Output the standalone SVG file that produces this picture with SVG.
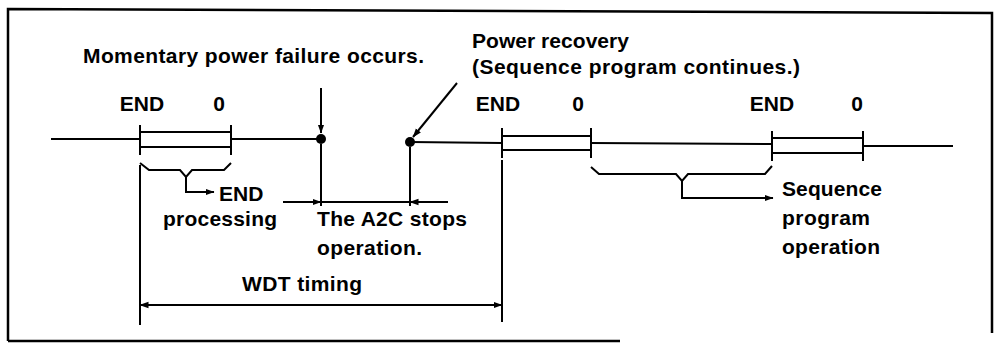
<svg xmlns="http://www.w3.org/2000/svg" width="1001" height="345" viewBox="0 0 1001 345">
<style>
  .t { font-family: "Liberation Sans", Arial, sans-serif; font-weight: bold; font-size: 21px; fill: #000; }
  .ln { stroke: #000; stroke-width: 2; fill: none; }
  .fr { stroke: #000; stroke-width: 2.5; fill: none; }
</style>
<defs>
  <marker id="ah" markerUnits="userSpaceOnUse" markerWidth="9" markerHeight="8" viewBox="0 0 9 8" refX="8.5" refY="4" orient="auto">
    <path d="M0,0.8 L9,4 L0,7.2 Z" fill="#000"/>
  </marker>
</defs>
<rect width="1001" height="345" fill="#fff"/>

<g id="frame">
  <path class="fr" d="M8,341 L8,9 L992,13 L992,333"/>
  <path class="fr" d="M8,341 L620,341"/>
</g>

<g id="timeline">
  <path class="ln" d="M51,139 L140,139"/>
  <path class="ln" d="M140,125 L140,155 M231,125 L231,155 M140,132 L231,132 M140,147 L231,147"/>
  <path class="ln" d="M231,139 L318,139"/>
  <circle cx="321" cy="139" r="5" fill="#000"/>
  <circle cx="410" cy="142" r="5" fill="#000"/>
  <path class="ln" d="M410,142 L502,143"/>
  <path class="ln" d="M502,128 L502,158 M591,128 L591,158 M502,136 L591,136 M502,150 L591,150"/>
  <path class="ln" d="M591,143 L772,144"/>
  <path class="ln" d="M772,131 L772,161 M863,131 L863,161 M772,138 L863,138 M772,153 L863,153"/>
  <path class="ln" d="M863,146 L953,146"/>
</g>

<g id="labels-end0">
  <text class="t" x="142" y="111" text-anchor="middle">END</text>
  <text class="t" x="219" y="111" text-anchor="middle">0</text>
  <text class="t" x="498" y="111" text-anchor="middle">END</text>
  <text class="t" x="578" y="111" text-anchor="middle">0</text>
  <text class="t" x="772" y="111" text-anchor="middle">END</text>
  <text class="t" x="857" y="111" text-anchor="middle">0</text>
</g>

<g id="node-failure">
  <text class="t" x="83" y="63" textLength="341" lengthAdjust="spacing">Momentary power failure occurs.</text>
</g>

<g id="node-recovery">
  <text class="t" x="472" y="48" textLength="157" lengthAdjust="spacing">Power recovery</text>
  <text class="t" x="472" y="74" textLength="328" lengthAdjust="spacing">(Sequence program continues.)</text>
</g>

<g id="node-end-processing">
  <text class="t" x="219" y="201">END</text>
  <text class="t" x="163" y="226" textLength="114" lengthAdjust="spacing">processing</text>
</g>

<g id="node-a2c-stops">
  <text class="t" x="317" y="226" textLength="150" lengthAdjust="spacing">The A2C stops</text>
  <text class="t" x="317" y="255" textLength="105" lengthAdjust="spacing">operation.</text>
</g>

<g id="node-wdt">
  <text class="t" x="242" y="291" textLength="120" lengthAdjust="spacing">WDT timing</text>
</g>

<g id="node-seq-op">
  <text class="t" x="782" y="196" textLength="100" lengthAdjust="spacing">Sequence</text>
  <text class="t" x="782" y="225" textLength="88" lengthAdjust="spacing">program</text>
  <text class="t" x="782" y="254" textLength="98" lengthAdjust="spacing">operation</text>
</g>

<g id="connectors">
  <path class="ln" d="M321,88 L321,133" marker-end="url(#ah)"/>
  <path class="ln" d="M457,83 L413,137" marker-end="url(#ah)"/>
  <path class="ln" d="M140,163 L149,170 L180,170 L186,177 L192,170 L224,170 L231,163"/>
  <path class="ln" d="M186,177 L186,192 L214,192" marker-end="url(#ah)"/>
  <path class="ln" d="M591,167 L599,174 L676,174 L682,181 L688,174 L765,174 L772,166"/>
  <path class="ln" d="M682,181 L682,198 L773,198" marker-end="url(#ah)"/>
  <path class="ln" d="M321,144 L321,206"/>
  <path class="ln" d="M410,147 L410,206"/>
  <path class="ln" d="M283,202 L321,202" marker-end="url(#ah)"/>
  <path class="ln" d="M321,202 L410,202"/>
  <path class="ln" d="M448,202 L410,202" marker-end="url(#ah)"/>
  <path class="ln" d="M140,165 L140,325"/>
  <path class="ln" d="M502,160 L502,322"/>
  <path class="ln" d="M321,305 L140,305" marker-end="url(#ah)"/>
  <path class="ln" d="M321,305 L502,305" marker-end="url(#ah)"/>
</g>
</svg>
